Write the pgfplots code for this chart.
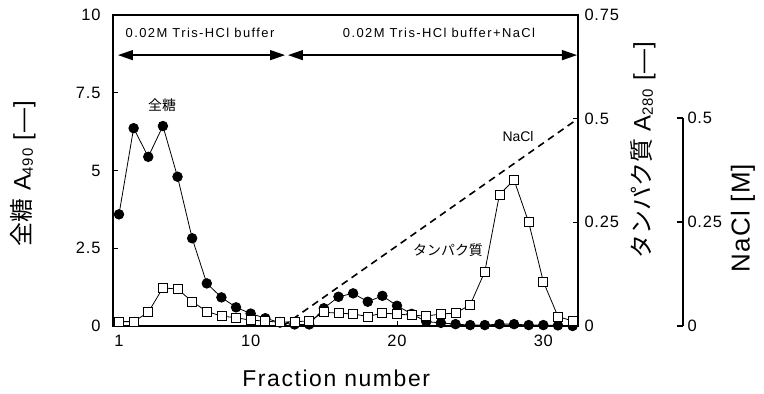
\documentclass[border=0pt]{standalone}
\usepackage{pgfplots}
\pgfplotsset{compat=1.18}
\usepackage{fontspec}
\setmainfont{Liberation Sans}
\newfontfamily\jp{Noto Sans CJK JP}
\usetikzlibrary{arrows.meta}

\pgfplotstableread{
f s
1 3.59
2 6.36
3 5.44
4 6.43
5 4.80
6 2.82
7 1.37
8 0.92
9 0.60
10 0.40
11 0.25
12 0.11
13 0.05
14 0.05
15 0.57
16 0.94
17 1.05
18 0.78
19 0.97
20 0.65
21 0.39
22 0.14
23 0.10
24 0.06
25 0.03
26 0.03
27 0.06
28 0.06
29 0.03
30 0.03
31 0.02
32 0.00
}\sugar

\pgfplotstableread{
f p
1 0.0105
2 0.0105
3 0.033
4 0.092
5 0.089
6 0.059
7 0.035
8 0.024
9 0.020
10 0.014
11 0.012
12 0.009
13 0.0105
14 0.012
15 0.033
16 0.031
17 0.029
18 0.023
19 0.031
20 0.029
21 0.026
22 0.024
23 0.029
24 0.031
25 0.051
26 0.131
27 0.317
28 0.352
29 0.250
30 0.107
31 0.023
32 0.012
}\protein

\pgfplotstableread{
f n
12.2 0
32.37 0.5
}\nacl

\newcommand{\tickfont}{\fontsize{16.5}{18}\selectfont\addfontfeatures{LetterSpace=5}}
\newcommand{\labfont}{\fontsize{24}{26}\selectfont\addfontfeatures{LetterSpace=5}}

\begin{document}
\begin{tikzpicture}
\begin{axis}[
  at={(0,0)}, anchor=south west,
  width=465bp, height=311bp, scale only axis,
  xmin=0.59, xmax=32.37, ymin=0, ymax=10,
  axis line style={line width=2.5bp, black},
  xtick={1,10,20,30}, xticklabels={1,10,20,30},
  ytick={0,2.5,5,7.5,10}, yticklabels={0,2.5,5,7.5,10},
  xtick pos=bottom, ytick pos=left,
  tick align=inside, major tick length=5bp,
  tick style={line width=1bp, black},
  ticklabel style={font=\tickfont},
  yticklabel style={xshift=-9bp},
  xticklabel style={yshift=-6bp},
  xlabel={Fraction number},
  xlabel style={at={(axis description cs:0.48,0)}, anchor=center, yshift=-52bp,
    font=\fontsize{23}{25}\selectfont\addfontfeatures{LetterSpace=7}},
  ylabel={{\jp 全糖} A\raisebox{-0.1em}{\fontsize{15}{15}\selectfont 490} [—]},
  ylabel style={at={([xshift=-90bp]axis description cs:0,0.489)}, anchor=center, font=\labfont},
  clip=false,
]
\addplot[black, line width=0.8bp, mark=*, mark size=4.8bp, mark options={fill=black, draw=black}] table[x=f, y=s] {\sugar};
\draw[line width=2.5bp, line cap=rect] (rel axis cs:0,0) rectangle (rel axis cs:1,1);
\draw[line width=1.3bp, -{Triangle[length=15bp,width=10bp]}] (axis cs:6.6,8.71) -- (axis cs:12.35,8.71);
\draw[line width=1.3bp, -{Triangle[length=15bp,width=10bp]}] (axis cs:6.6,8.71) -- (axis cs:0.93,8.71);
\draw[line width=1.3bp, -{Triangle[length=15bp,width=10bp]}] (axis cs:22.5,8.71) -- (axis cs:12.55,8.71);
\draw[line width=1.3bp, -{Triangle[length=15bp,width=10bp]}] (axis cs:22.5,8.71) -- (axis cs:32.3,8.71);
\node[font=\fontsize{13}{14}\selectfont\addfontfeatures{LetterSpace=11}] at (axis cs:6.54,9.42) {0.02M Tris-HCl buffer};
\node[font=\fontsize{13}{14}\selectfont\addfontfeatures{LetterSpace=11}] at (axis cs:22.87,9.42) {0.02M Tris-HCl buffer+NaCl};
\node[font=\jp\fontsize{14}{15}\selectfont] at (axis cs:3.94,7.11) {全糖};
\node[font=\fontsize{14}{15}\selectfont] at (axis cs:28.27,6.08) {NaCl};
\node[font=\jp\fontsize{14}{15}\selectfont] at (axis cs:23.49,2.44) {タンパク質};
\end{axis}

\begin{axis}[
  at={(0,0)}, anchor=south west,
  width=465bp, height=311bp, scale only axis,
  xmin=0.59, xmax=32.37, ymin=0, ymax=0.75,
  axis y line*=right, axis x line=none,
  axis line style={line width=2.5bp, black, -},
  ytick={0,0.25,0.5,0.75}, yticklabels={0,0.25,0.5,0.75},
  tick align=inside, major tick length=5bp,
  tick style={line width=1bp, black},
  ticklabel style={font=\tickfont},
  yticklabel style={xshift=3bp},
  ylabel={{\jp タンパク質} A\raisebox{-0.1em}{\fontsize{15}{15}\selectfont 280} [—]},
  ylabel style={at={([xshift=65bp]axis description cs:1,0.566)}, anchor=center, font=\labfont},
  clip=false,
]
\addplot[black, line width=1.6bp, dash pattern=on 7bp off 5bp] table[x=f, y=n] {\nacl};
\addplot[black, line width=0.8bp, mark=square*, mark size=4.5bp, mark options={fill=white, draw=black, line width=0.8bp}] table[x=f, y=p] {\protein};
\end{axis}

\begin{axis}[
  at={(569bp,0)}, anchor=south west,
  width=1bp, height=208bp, scale only axis,
  xmin=0, xmax=1, ymin=0, ymax=0.5,
  axis y line*=right, axis x line=none,
  axis line style={line width=2.5bp, black, -},
  ytick={0,0.25,0.5}, yticklabels={0,0.25,0.5},
  tick align=inside, major tick length=6bp,
  tick style={line width=1.2bp, black},
  ticklabel style={font=\tickfont},
  yticklabel style={xshift=1bp},
  ylabel={NaCl [M]},
  ylabel style={at={([xshift=60bp]axis description cs:1,0.519)}, anchor=center,
    font=\fontsize{26}{28}\selectfont\addfontfeatures{LetterSpace=5}},
  clip=false,
]
\draw[line width=2.5bp] (rel axis cs:1,0) -- (rel axis cs:1,1);
\end{axis}

\pgfresetboundingbox
\path[use as bounding box] (-113bp,-68bp) rectangle (651bp,326bp);
\end{tikzpicture}
\end{document}
